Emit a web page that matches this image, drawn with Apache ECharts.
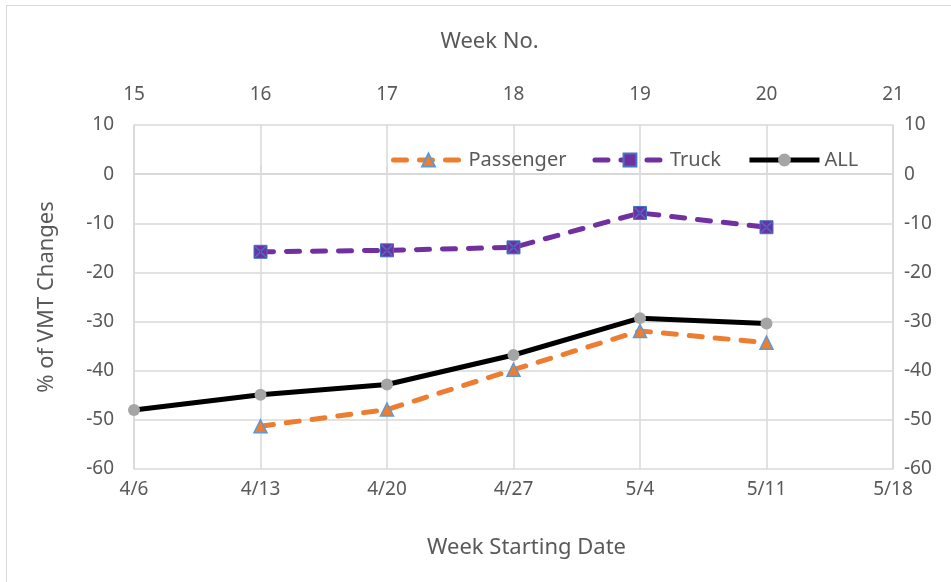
<!DOCTYPE html>
<html>
<head>
<meta charset="utf-8">
<script src="https://cdn.jsdelivr.net/npm/echarts@6/dist/echarts.min.js"></script>
<style>
  html, body { margin: 0; padding: 0; background: #fff; }
  #frame { position: absolute; left: 6px; top: 5px; width: 960px; height: 600px; border: 1px solid #d9d9d9; box-sizing: border-box; }
  #chart { position: absolute; left: 0; top: 0; width: 951px; height: 582px; }
</style>
</head>
<body>
<div id="frame"></div>
<div id="chart"></div>
<script>
// Week starting dates (bottom axis) and week numbers (top axis)
const dates = ["4/6", "4/13", "4/20", "4/27", "5/4", "5/11", "5/18"];
const weeks = ["15", "16", "17", "18", "19", "20", "21"];

// % of VMT changes
const passenger = [null, -51.3, -47.9, -39.8, -31.9, -34.3, null];
const truck = [null, -15.8, -15.5, -14.9, -7.9, -10.8, null];
const allVmt = [-48.0, -44.9, -42.8, -36.8, -29.3, -30.4, null];

const FONT = "Noto Sans";
const TXT = "#595959";
const GRID = "#d9d9d9";
const DASH = [13, 13];

// thin filled X drawn on top of the truck squares
const X_PATH = "path://M0,0.9L0.9,0L10,9.1L9.1,10Z M10,0.9L9.1,0L0,9.1L0.9,10Z";

const chart = echarts.init(document.getElementById("chart"));

chart.setOption({
  animation: false,
  textStyle: { fontFamily: FONT },
  legend: {
    top: 145,
    left: 386,
    itemWidth: 70,
    itemHeight: 16,
    itemGap: 26,
    textStyle: { fontSize: 20, color: TXT, fontFamily: FONT },
    data: [
      { name: "Passenger", lineStyle: { width: 5 } },
      { name: "Truck", lineStyle: { width: 5 } },
      { name: "ALL", lineStyle: { width: 5 } }
    ]
  },
  grid: { left: 134, right: 58, top: 125, bottom: 113 },
  xAxis: [
    {
      type: "category",
      data: dates,
      boundaryGap: false,
      position: "bottom",
      name: "Week Starting Date",
      nameLocation: "middle",
      nameGap: 68,
      nameTextStyle: { fontSize: 22, color: TXT, padding: [0, 0, 0, 26] },
      axisLine: { lineStyle: { color: GRID, width: 1.5 } },
      axisTick: { show: false },
      axisLabel: { color: TXT, fontSize: 19, margin: 11 },
      splitLine: { show: true, lineStyle: { color: GRID, width: 1.5 } }
    },
    {
      type: "category",
      data: weeks,
      boundaryGap: false,
      position: "top",
      name: "Week No.",
      nameLocation: "middle",
      nameGap: 72,
      nameTextStyle: { fontSize: 22, color: TXT, padding: [0, 48, 0, 0] },
      axisLine: { show: true, lineStyle: { color: GRID, width: 1.5 } },
      axisTick: { show: true, length: 8, lineStyle: { color: GRID, width: 1.5 } },
      axisLabel: { color: TXT, fontSize: 19, margin: 21 },
      splitLine: { show: false }
    }
  ],
  yAxis: [
    {
      type: "value",
      min: -60,
      max: 10,
      interval: 10,
      position: "left",
      name: "% of VMT Changes",
      nameLocation: "middle",
      nameGap: 76,
      nameTextStyle: { fontSize: 22, color: TXT },
      axisLine: { show: true, lineStyle: { color: GRID, width: 1.5 } },
      axisTick: { show: false },
      axisLabel: { color: TXT, fontSize: 19, margin: 20 },
      splitLine: { show: true, lineStyle: { color: GRID, width: 1.5 } }
    },
    {
      type: "value",
      min: -60,
      max: 10,
      interval: 10,
      position: "right",
      axisLine: { show: true, lineStyle: { color: GRID, width: 1.5 } },
      axisTick: { show: false },
      axisLabel: { color: TXT, fontSize: 19, margin: 11 },
      splitLine: { show: false }
    }
  ],
  series: [
    {
      name: "Passenger",
      type: "line",
      data: passenger,
      symbol: "triangle",
      symbolSize: 13,
      lineStyle: { color: "#ED7D31", width: 5, type: DASH, cap: "round" },
      itemStyle: { color: "#ED7D31", borderColor: "#5B9BD5", borderWidth: 1.5 },
      z: 3
    },
    {
      name: "Truck",
      type: "line",
      data: truck,
      symbol: "rect",
      symbolSize: 13,
      lineStyle: { color: "#7030A0", width: 5, type: DASH, cap: "round" },
      itemStyle: { color: "#7030A0", borderColor: "#4472C4", borderWidth: 1 },
      z: 3
    },
    {
      name: "Truck",
      type: "line",
      data: truck,
      symbol: X_PATH,
      symbolSize: 12,
      showSymbol: true,
      lineStyle: { opacity: 0 },
      itemStyle: { color: "#4472C4" },
      z: 4
    },
    {
      name: "ALL",
      type: "line",
      data: allVmt,
      symbol: "circle",
      symbolSize: 12,
      lineStyle: { color: "#000000", width: 5 },
      itemStyle: { color: "#A5A5A5" },
      z: 5
    }
  ]
});
</script>
</body>
</html>
